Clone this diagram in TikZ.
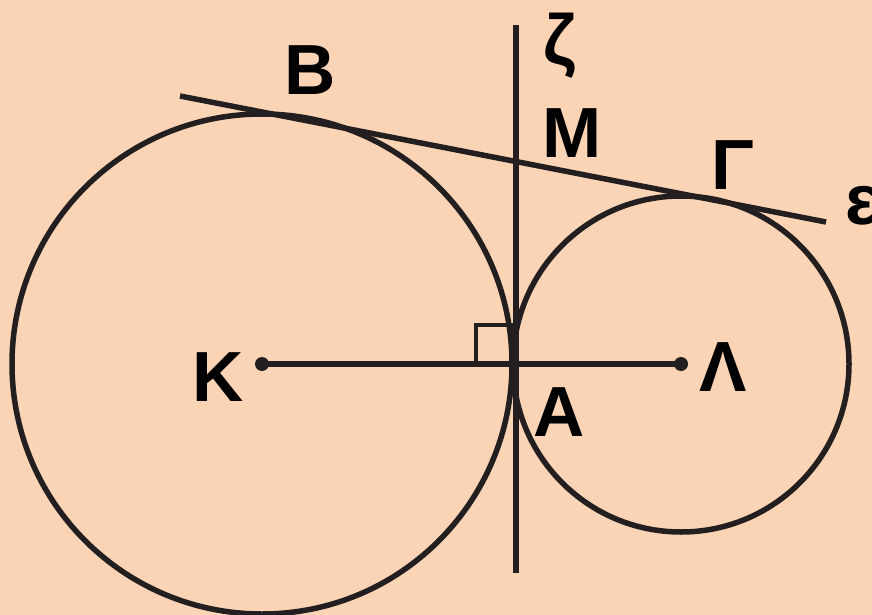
\documentclass[tikz,border=0pt]{standalone}
\usepackage{fontspec}
\setmainfont{Liberation Sans}
\definecolor{bg}{HTML}{FAD4B5}
\definecolor{ink}{HTML}{231F20}
\begin{document}
\begin{tikzpicture}[x=1pt,y=-1pt,
  geo/.style={draw=ink,line width=5.5pt},
  lbl/.style={text=black,font=\fontsize{71}{80}\selectfont\bfseries,inner sep=0pt,anchor=center}]
\fill[bg] (0,0) rectangle (872,615);
\useasboundingbox (0,0) rectangle (872,615);
\coordinate (K) at (262,364);
\coordinate (L) at (681,364);
\coordinate (A) at (513,364);
\coordinate (Z1) at (516,25);
\coordinate (Z2) at (516,573);
\coordinate (E1) at (180,96);
\coordinate (E2) at (826,222);
\draw[geo] (K) circle[radius=250];
\draw[geo] (L) circle[radius=168];
\draw[draw=ink,line width=3.5pt] (476,364) -- (476,325) -- (514,325) -- (514,364);
\draw[geo] (Z1) -- (Z2);
\draw[geo] (E1) -- (E2);
\draw[geo] (K) -- (L);
\fill[ink] (K) circle[radius=7];
\fill[ink] (L) circle[radius=7];
\node[lbl] (lB) at (310,70) {Β};
\node[lbl] (lZ) at (560,46) {ζ};
\node[lbl] (lM) at (572,133) {Μ};
\node[lbl] (lG) at (733,165) {Γ};
\node[lbl] (lE) at (862,206) {ε};
\node[lbl] (lK) at (218,377) {Κ};
\node[lbl] (lL) at (723,367) {Λ};
\node[lbl] (lA) at (559,412) {Α};
\end{tikzpicture}
\end{document}
